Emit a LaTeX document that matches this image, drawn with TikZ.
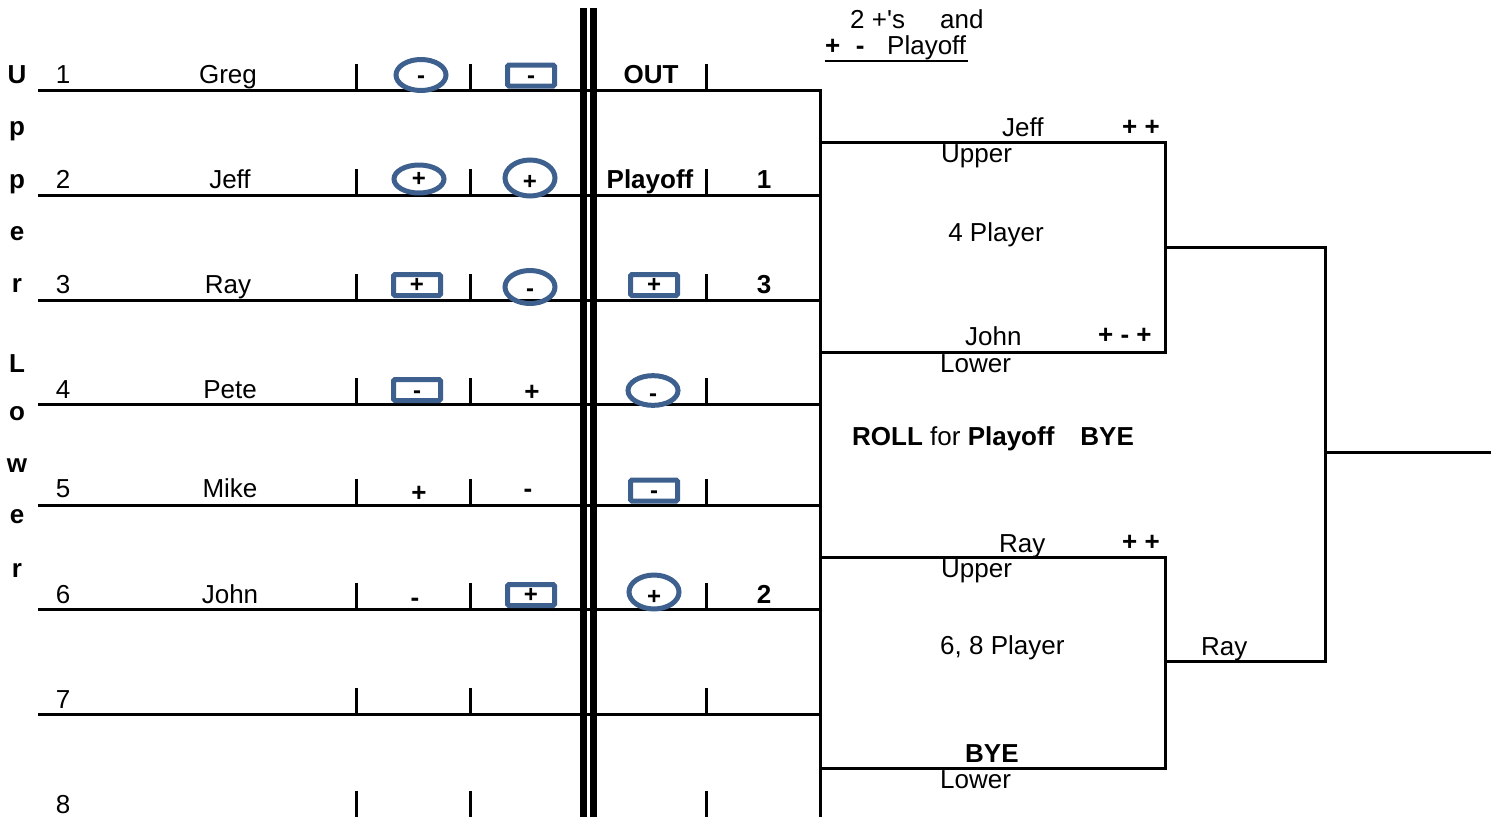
\documentclass[tikz,border=0pt]{standalone}
\usepackage{fontspec}
\setmainfont{Liberation Sans}
\usetikzlibrary{shapes.geometric}
\definecolor{blu}{RGB}{61,96,143}
\begin{document}
\begin{tikzpicture}[x=1pt,y=-1pt,
  txt/.style={font=\fontsize{26}{30}\selectfont, inner sep=0pt, anchor=base},
  bt/.style={font=\fontsize{26}{30}\selectfont\bfseries, inner sep=0pt, anchor=base},
  ln/.style={line width=3pt},
  mk/.style={inner sep=0pt, font=\fontsize{24}{28}\selectfont\bfseries, text height=15pt, text depth=0pt},
  ell/.style={mk, ellipse, draw=blu, line width=5pt},
  sq/.style={mk, rectangle, draw=blu, line width=5pt, rounded corners=1.5pt, minimum width=47pt, minimum height=21pt}]
\useasboundingbox (0,0) rectangle (1491,817);

% row lines
\draw[ln] (38,90) -- (820,90) -- (820,817);
\foreach \yy in {195,300,404,505,609,714} \draw[ln] (38,\yy) -- (820,\yy);
% ticks
\foreach \yy in {90,195,300,404,505,609,714,817}
  \foreach \xx in {356,470,706} \draw[ln] (\xx,\yy-26) -- (\xx,\yy);
% double bar
\fill (580,8) rectangle (586.5,817);
\fill (589.5,8) rectangle (597,817);

% brackets
\draw[ln] (820,142) -- (1165,142) -- (1165,352) -- (820,352);
\draw[ln] (820,557) -- (1165,557) -- (1165,768) -- (820,768);
\draw[ln] (1165,247) -- (1325,247) -- (1325,661) -- (1165,661);
\draw[ln] (1325,452) -- (1491,452);

% vertical word
\node[bt] (lU) at (17,83) {U};
\node[bt] (lp1) at (17,135) {p};
\node[bt] (lp2) at (17,188) {p};
\node[bt] (le1) at (17,240) {e};
\node[bt] (lr1) at (17,292) {r};
\node[bt] (lL) at (17,372) {L};
\node[bt] (lo) at (17,420) {o};
\node[bt] (lw) at (17,472) {w};
\node[bt] (le2) at (17,523) {e};
\node[bt] (lr2) at (17,577) {r};

% numbers and names
\node[txt] (n1) at (63,83) {1};
\node[txt] (n2) at (63,188) {2};
\node[txt] (n3) at (63,293) {3};
\node[txt] (n4) at (63,398) {4};
\node[txt] (n5) at (63,497) {5};
\node[txt] (n6) at (63,603) {6};
\node[txt] (n7) at (63,708) {7};
\node[txt] (n8) at (63,813) {8};
\node[txt] (greg) at (228,83) {Greg};
\node[txt] (jeff) at (230,188) {Jeff};
\node[txt] (ray) at (228,293) {Ray};
\node[txt] (pete) at (230,398) {Pete};
\node[txt] (mike) at (230,497) {Mike};
\node[txt] (john) at (230,603) {John};

% marks row 1
\node[ell, text height=16pt, minimum width=50pt, minimum height=31pt] (a1) at (421,75) {-};
\node[sq, text height=16pt] (b1) at (531,75.5) {-};
\node[bt] (c1) at (651,83) {OUT};
% row 2
\node[ell, minimum width=50pt, minimum height=28pt] (a2) at (419,179) {+};
\node[ell, text height=22pt, minimum width=50pt, minimum height=36pt] (b2) at (530,178) {+};
\node[bt] (c2) at (650,188) {Playoff};
\node[bt] (d2) at (764,188) {1};
% row 3
\node[sq] (a3) at (417,285) {+};
\node[ell, text height=19pt, minimum width=50pt, minimum height=33pt] (b3) at (530,287) {-};
\node[sq] (c3) at (654,285) {+};
\node[bt] (d3) at (764,293) {3};
% row 4
\node[sq, text height=16pt] (a4) at (417,390) {-};
\node[bt] (b4) at (532,400) {+};
\node[ell, text height=21pt, minimum width=50pt, minimum height=29pt] (c4) at (653,390.5) {-};
% row 5
\node[bt] (a5) at (419,501) {+};
\node[bt] (b5) at (528,497) {-};
\node[sq, text height=16pt] (c5) at (654,490.5) {-};
% row 6
\node[bt] (a6) at (415,606) {-};
\node[sq] (b6) at (531,595) {+};
\node[ell, text height=24pt, minimum width=50pt, minimum height=33pt] (c6) at (654,592) {+};
\node[bt] (d6) at (764,603) {2};

% right side texts
\node[txt, anchor=base west] (t1) at (850,28) {2 +\textquotesingle s};
\node[txt, anchor=base west] (t2) at (940,28) {and};
\node[bt, anchor=base west] (t3) at (825,54) {+\hspace{0.6em}-};
\node[txt, anchor=base west] (t4) at (887,54) {Playoff};
\draw[line width=2pt] (825,60.5) -- (968,60.5);

\node[txt, anchor=base west] (uj) at (1002,136) {Jeff};
\node[bt, anchor=base west] (upp) at (1122,135) {+ +};
\node[txt, anchor=base west] (uu) at (941,162) {Upper};
\node[txt] (p4) at (996,241) {4 Player};
\node[txt, anchor=base west] (lj) at (965,345) {John};
\node[bt, anchor=base west] (lpm) at (1098,343) {+ - +};
\node[txt, anchor=base west] (ll) at (940,372) {Lower};
\node[txt, anchor=base west] (roll) at (852,445) {\textbf{ROLL} for \textbf{Playoff}\hspace{1em}\textbf{BYE}};
\node[txt, anchor=base west] (ur) at (999,552) {Ray};
\node[bt, anchor=base west] (upp2) at (1122,550) {+ +};
\node[txt, anchor=base west] (uu2) at (941,577) {Upper};
\node[txt, anchor=base west] (p68) at (940,654) {6, 8 Player};
\node[txt, anchor=base west] (rr) at (1201,655) {Ray};
\node[bt, anchor=base west] (bye) at (965,762) {BYE};
\node[txt, anchor=base west] (ll2) at (940,788) {Lower};
\end{tikzpicture}
\end{document}
